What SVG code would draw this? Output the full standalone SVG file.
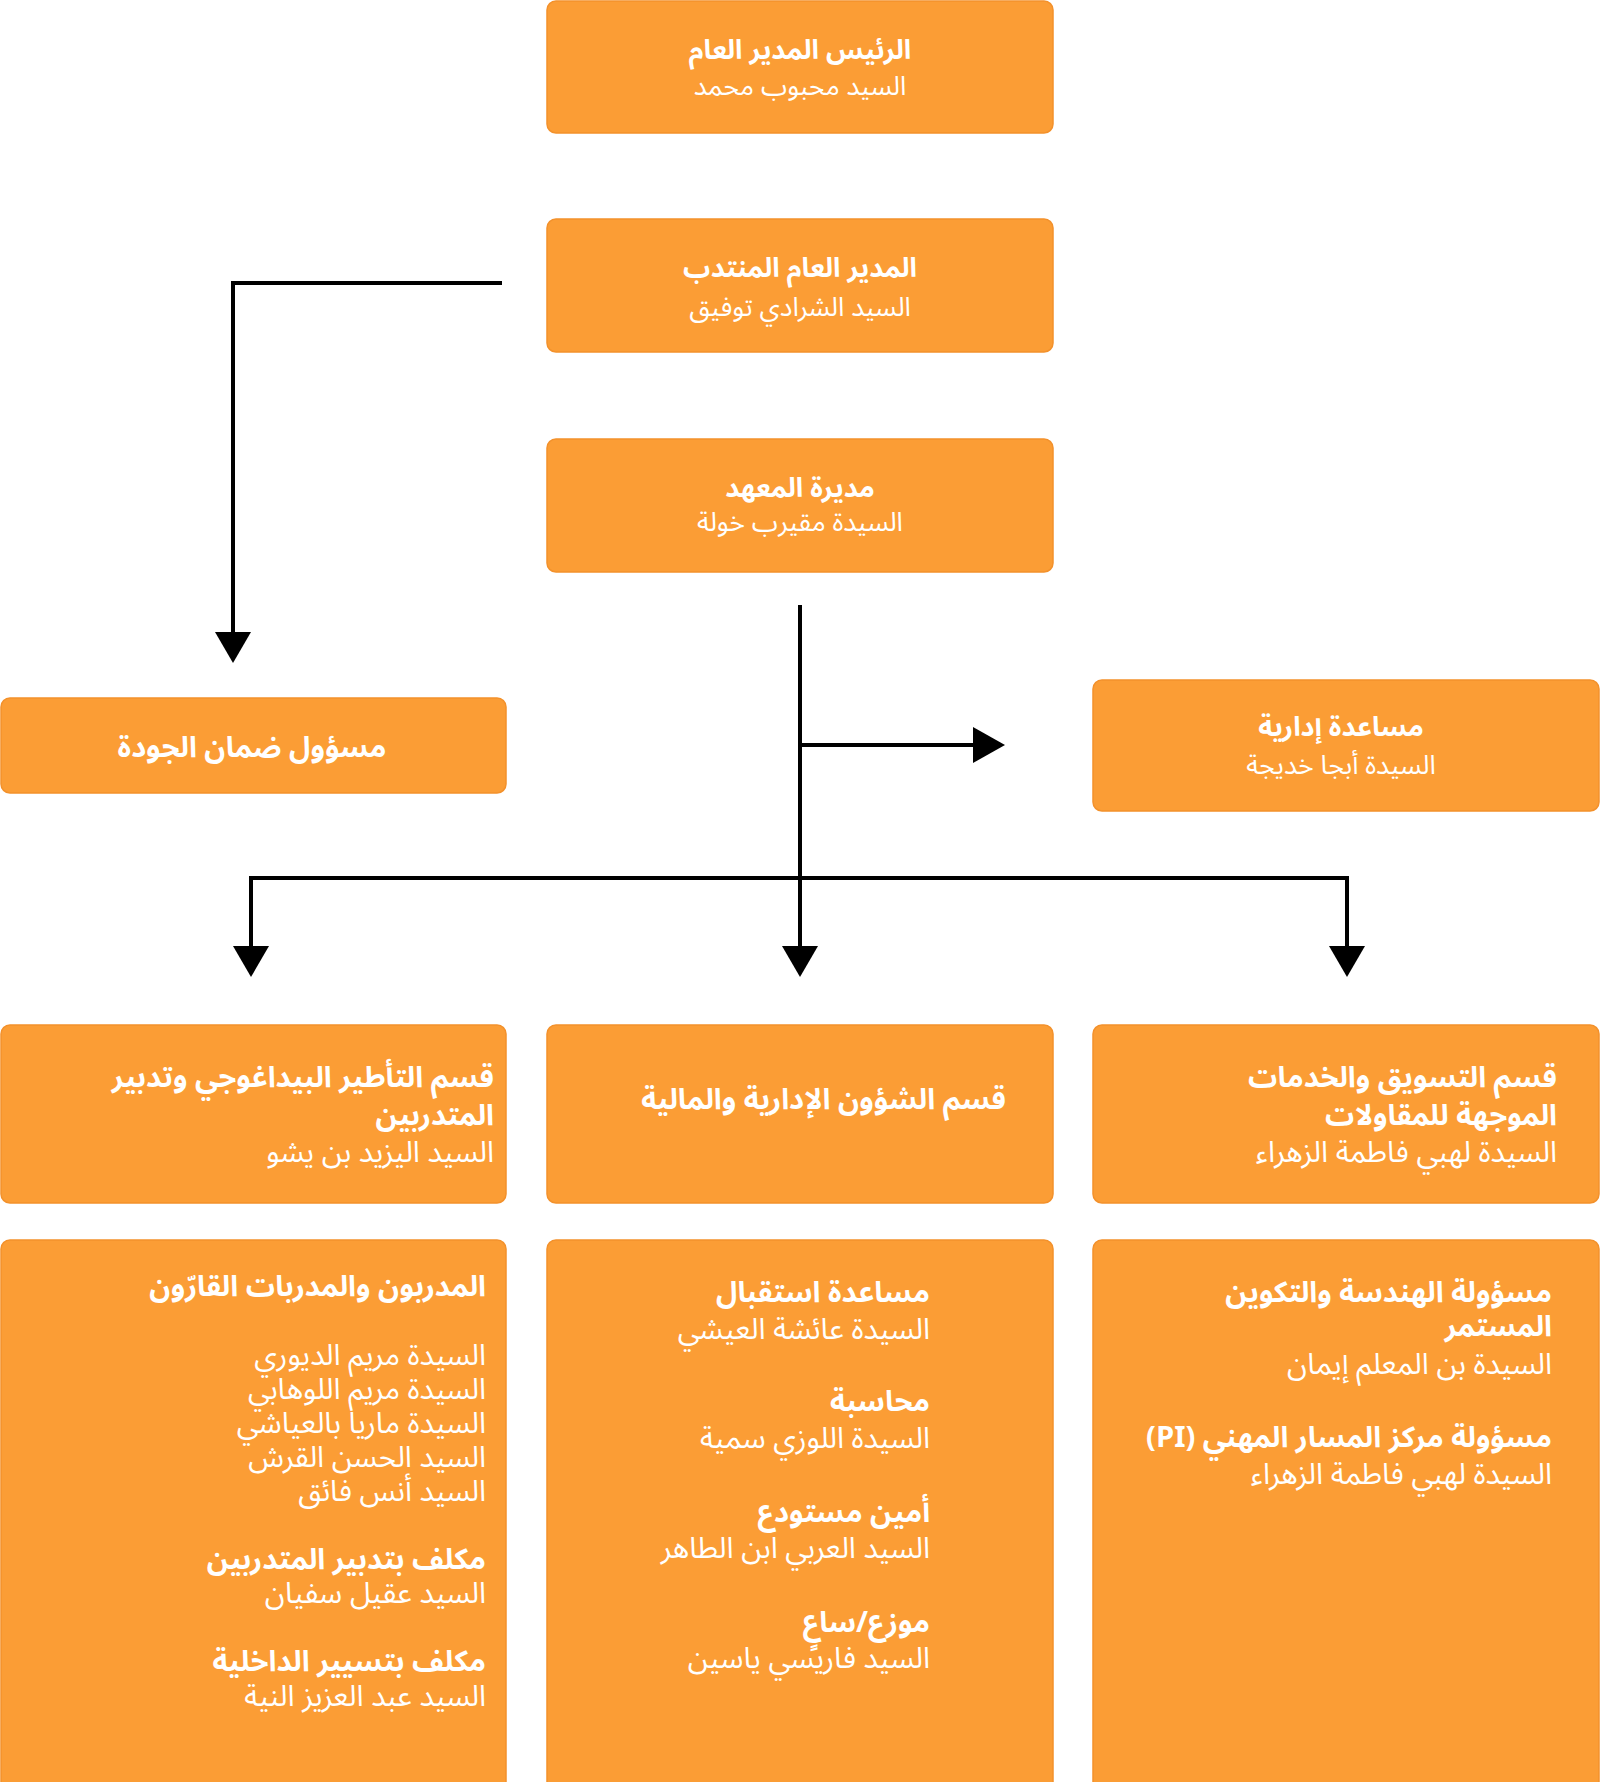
<svg xmlns="http://www.w3.org/2000/svg" width="1600" height="1782" viewBox="0 0 1600 1782">
<style>
.box{fill:#FB9D35;stroke:#F3912B;stroke-width:1.5}
text{fill:#FFFFFF;font-family:"Noto Sans Arabic","Noto Sans","DejaVu Sans",sans-serif;direction:rtl}
.t{font-size:27px;font-weight:bold}
.s{font-size:26.5px}
.t2{font-size:29px;font-weight:bold}
.t3{font-size:29px;font-weight:bold}
.s2{font-size:29.5px}
.c{text-anchor:middle}
.r{text-anchor:start}
.ln{stroke:#000;stroke-width:4;fill:none}
.ah{fill:#000}
</style>
<rect width="1600" height="1782" fill="#FFFFFF"/>
<g id="connectors">
<path class="ln" d="M502,283 H233 V634"/>
<polygon class="ah" points="215,632 251,632 233,663"/>
<path class="ln" d="M800,605 V948"/>
<polygon class="ah" points="782,946 818,946 800,977"/>
<path class="ln" d="M800,745 H975"/>
<polygon class="ah" points="973,727 973,763 1005,745"/>
<path class="ln" d="M251,948 V878 H1347 V948"/>
<polygon class="ah" points="233,946 269,946 251,977"/>
<polygon class="ah" points="1329,946 1365,946 1347,977"/>
</g>
<g id="n-president">
<rect class="box" x="547" y="1" width="506" height="132" rx="9"/>
<text class="t c" x="800" y="59">الرئيس المدير العام</text>
<text class="s c" x="800" y="95">السيد محبوب محمد</text>
</g>
<g id="n-deputy">
<rect class="box" x="547" y="219" width="506" height="133" rx="9"/>
<text class="t c" x="800" y="277">المدير العام المنتدب</text>
<text class="s c" x="800" y="316">السيد الشرادي توفيق</text>
</g>
<g id="n-director">
<rect class="box" x="547" y="439" width="506" height="133" rx="9"/>
<text class="t c" x="800" y="497">مديرة المعهد</text>
<text class="s c" x="800" y="531">السيدة مقيرب خولة</text>
</g>
<g id="n-quality">
<rect class="box" x="1" y="698" width="505" height="95" rx="9"/>
<text class="t2 c" x="252" y="757">مسؤول ضمان الجودة</text>
</g>
<g id="n-assistant">
<rect class="box" x="1093" y="680" width="506" height="131" rx="9"/>
<text class="t c" x="1341" y="736">مساعدة إدارية</text>
<text class="s c" x="1341" y="774">السيدة أبجا خديجة</text>
</g>
<g id="n-pedagogy">
<rect class="box" x="1" y="1025" width="505" height="178" rx="9"/>
<text class="t2 r" x="494" y="1087">قسم التأطير البيداغوجي وتدبير</text>
<text class="t2 r" x="494" y="1125">المتدربين</text>
<text class="s2 r" x="494" y="1162">السيد اليزيد بن يشو</text>
</g>
<g id="n-admin">
<rect class="box" x="547" y="1025" width="506" height="178" rx="9"/>
<text class="t2 r" x="1006" y="1109">قسم الشؤون الإدارية والمالية</text>
</g>
<g id="n-marketing">
<rect class="box" x="1093" y="1025" width="506" height="178" rx="9"/>
<text class="t2 r" x="1557" y="1087">قسم التسويق والخدمات</text>
<text class="t2 r" x="1557" y="1125">الموجهة للمقاولات</text>
<text class="s2 r" x="1557" y="1162">السيدة لهبي فاطمة الزهراء</text>
</g>
<g id="n-trainers">
<rect class="box" x="1" y="1240" width="505" height="560" rx="9"/>
<text class="t3 r" x="486" y="1296">المدربون والمدربات القارّون</text>
<text class="s2 r" x="486" y="1365">السيدة مريم الديوري</text>
<text class="s2 r" x="486" y="1399">السيدة مريم اللوهابي</text>
<text class="s2 r" x="486" y="1433">السيدة ماريا بالعياشي</text>
<text class="s2 r" x="486" y="1467">السيد الحسن القرش</text>
<text class="s2 r" x="486" y="1501">السيد أنس فائق</text>
<text class="t3 r" x="486" y="1569">مكلف بتدبير المتدربين</text>
<text class="s2 r" x="486" y="1603">السيد عقيل سفيان</text>
<text class="t3 r" x="486" y="1671">مكلف بتسيير الداخلية</text>
<text class="s2 r" x="486" y="1706">السيد عبد العزيز النية</text>
</g>
<g id="n-staff">
<rect class="box" x="547" y="1240" width="506" height="560" rx="9"/>
<text class="t3 r" x="930" y="1302">مساعدة استقبال</text>
<text class="s2 r" x="930" y="1339">السيدة عائشة العيشي</text>
<text class="t3 r" x="930" y="1411">محاسبة</text>
<text class="s2 r" x="930" y="1448">السيدة اللوزي سمية</text>
<text class="t3 r" x="930" y="1522">أمين مستودع</text>
<text class="s2 r" x="930" y="1558">السيد العربي ابن الطاهر</text>
<text class="t3 r" x="930" y="1632">موزع/ساعٍ</text>
<text class="s2 r" x="930" y="1668">السيد فاريسي ياسين</text>
</g>
<g id="n-engineering">
<rect class="box" x="1093" y="1240" width="506" height="560" rx="9"/>
<text class="t3 r" x="1552" y="1302">مسؤولة الهندسة والتكوين</text>
<text class="t3 r" x="1552" y="1336">المستمر</text>
<text class="s2 r" x="1552" y="1374">السيدة بن المعلم إيمان</text>
<text class="t3 r" x="1552" y="1447">مسؤولة مركز المسار المهني (PI)</text>
<text class="s2 r" x="1552" y="1484">السيدة لهبي فاطمة الزهراء</text>
</g>
</svg>
